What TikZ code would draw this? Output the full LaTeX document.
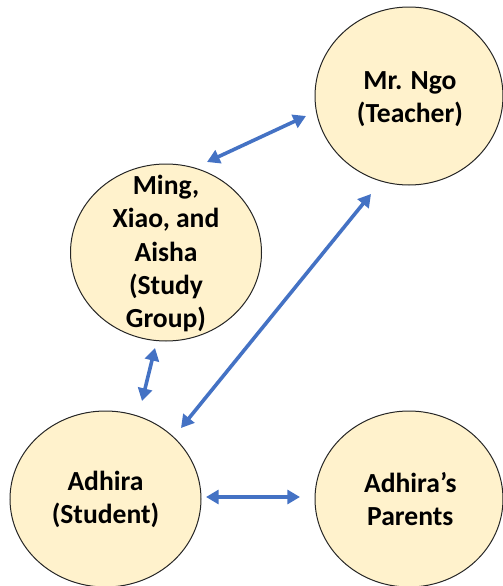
\documentclass[tikz,border=0pt]{standalone}
\usepackage{fontspec}
\setmainfont{Carlito}
\usetikzlibrary{shapes.geometric,arrows.meta}
\definecolor{cfill}{HTML}{FFF2CC}
\definecolor{arr}{HTML}{4472C4}
\begin{document}
\begin{tikzpicture}[x=0.75pt,y=-0.75pt,
  person/.style={ellipse,draw=black!85,line width=0.75pt,fill=cfill,inner sep=0pt},
  persontext/.style={inner sep=0pt,align=center,font=\fontsize{20.7}{25}\selectfont\bfseries},
  link/.style={draw=arr,line width=2.7pt,{Triangle[length=9.5pt,width=10.5pt]}-{Triangle[length=9.5pt,width=10.5pt]}}]
\useasboundingbox (0,0) rectangle (503,586);
\node[person,minimum width=141pt,minimum height=133.5pt] (teacher) at (409,96) {};
\node[person,minimum width=143.25pt,minimum height=132.75pt] (group) at (166,252.5) {};
\node[person,minimum width=143.25pt,minimum height=132pt] (student) at (105.5,499) {};
\node[person,minimum width=141pt,minimum height=132pt] (parents) at (409,499) {};
\node[persontext] (teachertext) at ([xshift=0.75pt,yshift=-2.25pt]teacher.center) {Mr. Ngo\\(Teacher)};
\node[persontext] (grouptext) at ([yshift=-0.75pt]group.center) {Ming,\\Xiao, and\\Aisha\\(Study\\Group)};
\node[persontext] (studenttext) at ([yshift=-0.5pt]student.center) {Adhira\\(Student)};
\node[persontext] (parentstext) at ([xshift=1pt]parents.center) {Adhira’s\\Parents};
\coordinate (gt1) at (207,162);
\coordinate (gt2) at (306,116);
\coordinate (st1) at (181,428);
\coordinate (st2) at (371,194);
\coordinate (sg1) at (142,401);
\coordinate (sg2) at (155,348);
\coordinate (sp1) at (206,497);
\coordinate (sp2) at (300,497);
\draw[link] (gt1) -- (gt2);
\draw[link] (st1) -- (st2);
\draw[link] (sg1) -- (sg2);
\draw[link] (sp1) -- (sp2);
\end{tikzpicture}
\end{document}
